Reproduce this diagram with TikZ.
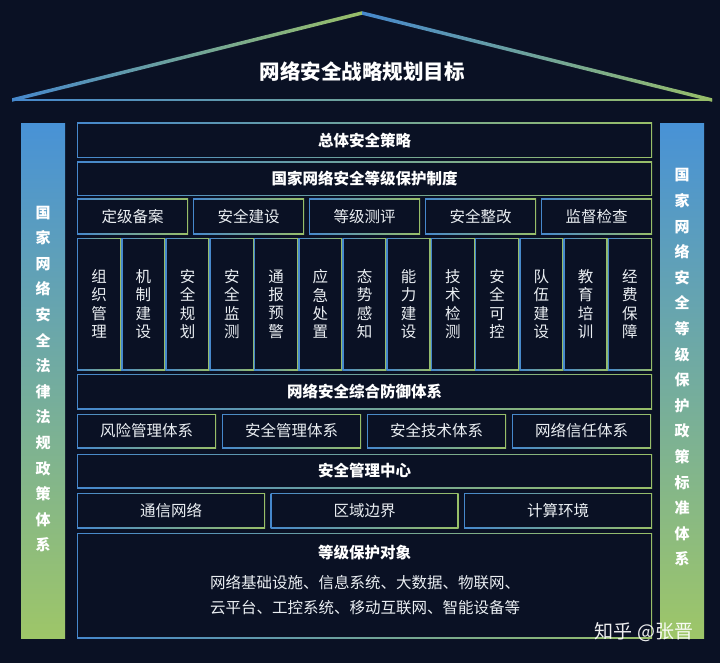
\documentclass[tikz,border=0pt]{standalone}
\usepackage{fontspec}
\setmainfont{Noto Sans CJK SC}
\usepackage{tikz}
\pgfdeclarelayer{nodelayer}
\pgfdeclarelayer{edgelayer}
\pgfsetlayers{nodelayer,edgelayer,main}
\definecolor{bg}{RGB}{10,17,36}
\definecolor{txt}{RGB}{234,238,242}
\definecolor{cblue}{RGB}{70,136,204}
\definecolor{cgreen}{RGB}{152,190,104}
\definecolor{ptop}{RGB}{72,146,214}
\definecolor{pbot}{RGB}{158,198,104}
\tikzset{
    none/.style = {inner sep=0pt},
    box/.style = {rectangle, inner sep=0pt, text=txt, left color=cblue, right color=cgreen,
        font=\fontsize{15.5}{18}\selectfont,
        path picture={\fill [bg] ([shift={(1.4pt,1.4pt)}]path picture bounding box.south west)
            rectangle ([shift={(-1.4pt,-1.4pt)}]path picture bounding box.north east);}},
    head/.style = {box, text=white, font=\bfseries\fontsize{15.5}{18}\selectfont},
    col/.style = {box, align=center, font=\fontsize{15.5}{18.3}\selectfont,
        minimum width=44.23pt, minimum height=132pt},
    pillar/.style = {rectangle, inner sep=0pt, top color=ptop, bottom color=pbot,
        minimum width=44pt, minimum height=514pt},
    pillartext/.style = {none, text=white, align=center, font=\bfseries\fontsize{15}{25.6}\selectfont}
}
\begin{document}
\begin{tikzpicture}[x=1pt, y=-1pt]
  \useasboundingbox (0, 0) rectangle (720, 663);
  \begin{pgfonlayer}{nodelayer}
    \fill [bg] (0, 0) rectangle (720, 663);
    % side pillars
    \node [style=pillar] (0) at (43, 381) {};
    \node [style=pillar] (1) at (682, 381) {};
    \node [style=pillartext] (2) at (43, 379) {国\\家\\网\\络\\安\\全\\法\\律\\法\\规\\政\\策\\体\\系};
    \node [style=pillartext] (3) at (682, 367.5) {国\\家\\网\\络\\安\\全\\等\\级\\保\\护\\政\\策\\标\\准\\体\\系};
    % rows
    \node [style=head, minimum width=575pt, minimum height=35pt] (4) at (364.5, 140.5) {总体安全策略};
    \node [style=head, minimum width=575pt, minimum height=34pt] (5) at (364.5, 179) {国家网络安全等级保护制度};
    \node [style=box, minimum width=111pt, minimum height=35pt] (6) at (132.5, 216.5) {定级备案};
    \node [style=box, minimum width=111pt, minimum height=35pt] (7) at (248.5, 216.5) {安全建设};
    \node [style=box, minimum width=111pt, minimum height=35pt] (8) at (364.5, 216.5) {等级测评};
    \node [style=box, minimum width=111pt, minimum height=35pt] (9) at (480.5, 216.5) {安全整改};
    \node [style=box, minimum width=111pt, minimum height=35pt] (10) at (596.5, 216.5) {监督检查};
    \node [style=col] (11) at (99.12, 304) {组\\织\\管\\理};
    \node [style=col] (12) at (143.35, 304) {机\\制\\建\\设};
    \node [style=col] (13) at (187.58, 304) {安\\全\\规\\划};
    \node [style=col] (14) at (231.81, 304) {安\\全\\监\\测};
    \node [style=col] (15) at (276.04, 304) {通\\报\\预\\警};
    \node [style=col] (16) at (320.27, 304) {应\\急\\处\\置};
    \node [style=col] (17) at (364.5, 304) {态\\势\\感\\知};
    \node [style=col] (18) at (408.73, 304) {能\\力\\建\\设};
    \node [style=col] (19) at (452.96, 304) {技\\术\\检\\测};
    \node [style=col] (20) at (497.19, 304) {安\\全\\可\\控};
    \node [style=col] (21) at (541.42, 304) {队\\伍\\建\\设};
    \node [style=col] (22) at (585.65, 304) {教\\育\\培\\训};
    \node [style=col] (23) at (629.88, 304) {经\\费\\保\\障};
    \node [style=head, minimum width=575pt, minimum height=35pt] (24) at (364.5, 391.5) {网络安全综合防御体系};
    \node [style=box, minimum width=139pt, minimum height=34pt] (25) at (146.5, 431) {风险管理体系};
    \node [style=box, minimum width=139pt, minimum height=34pt] (26) at (291.5, 431) {安全管理体系};
    \node [style=box, minimum width=139pt, minimum height=34pt] (27) at (436.5, 431) {安全技术体系};
    \node [style=box, minimum width=139pt, minimum height=34pt] (28) at (581.5, 431) {网络信任体系};
    \node [style=head, minimum width=575pt, minimum height=34pt] (29) at (364.5, 471) {安全管理中心};
    \node [style=box, minimum width=188pt, minimum height=35pt] (30) at (171, 510.5) {通信网络};
    \node [style=box, minimum width=188pt, minimum height=35pt] (31) at (364.5, 510.5) {区域边界};
    \node [style=box, minimum width=188pt, minimum height=35pt] (32) at (558, 510.5) {计算环境};
    \node [style=box, minimum width=575pt, minimum height=105pt] (33) at (364.5, 585.5) {};
    \node [style=none, text=white, font=\bfseries\fontsize{15.5}{18}\selectfont] (34) at (364.5, 553) {等级保护对象};
    \node [style=none, text=txt, anchor=west, align=left, font=\fontsize{15.5}{25}\selectfont] (35) at (210, 595.5) {网络基础设施、信息系统、大数据、物联网、\\云平台、工控系统、移动互联网、智能设备等};
    % roof title and watermark
    \node [style=none, text=white, font=\bfseries\fontsize{20.5}{24}\selectfont] (36) at (362, 72) {网络安全战略规划目标};
    \node [style=none, text=white, opacity=0.92, font=\fontsize{19}{22}\selectfont] (37) at (644, 632) {知乎 @张晋};
  \end{pgfonlayer}
  \begin{pgfonlayer}{edgelayer}
    \coordinate (38) at (12, 100);
    \coordinate (39) at (362, 13);
    \coordinate (40) at (712, 100);
    \shade [left color=cblue, right color=cgreen] ([yshift=-1.8pt]38) -- ([yshift=-1.8pt]39) -- ([yshift=1.8pt]39) -- ([yshift=1.8pt]38) -- cycle;
    \shade [left color=cblue, right color=cgreen] ([yshift=1.8pt]39) -- ([yshift=1.8pt]40) -- ([yshift=-1.8pt]40) -- ([yshift=-1.8pt]39) -- cycle;
    \shade [left color=cblue, right color=cgreen] ([yshift=-0.7pt]38) rectangle ([yshift=0.7pt]40);
  \end{pgfonlayer}
\end{tikzpicture}
\end{document}
